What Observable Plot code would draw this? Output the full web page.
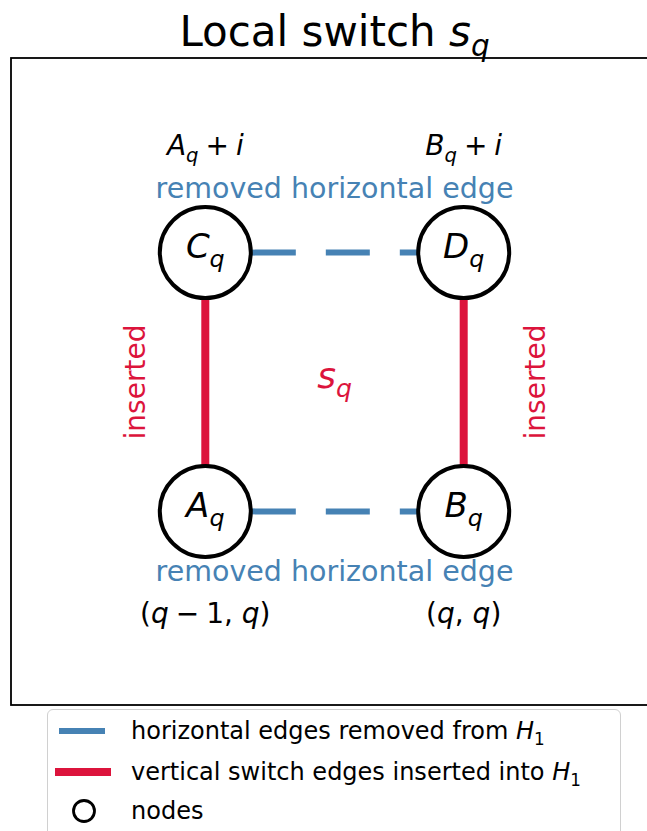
<!DOCTYPE html>
<html>
<head>
<meta charset="utf-8">
<script src="https://cdn.jsdelivr.net/npm/d3@7"></script>
<script src="https://cdn.jsdelivr.net/npm/@observablehq/plot@0.6"></script>
<style>
  html, body { margin: 0; padding: 0; background: white; overflow: hidden; }
  body { position: relative; width: 647px; height: 831px; font-family: "DejaVu Sans", sans-serif; }
  #legend { position: absolute; left: 47px; top: 709px; width: 572px; height: 150px;
            border: 1.6px solid #d0d0d0; border-radius: 6px; background: rgba(255,255,255,0.8); }
  .row { position: absolute; left: 0; height: 40px; line-height: 40px; font-size: 24px; color: black; white-space: nowrap; }
  .row svg { position: absolute; left: 0; top: 0; }
  .row span.lbl { position: absolute; left: 83px; top: 0; }
</style>
</head>
<body>
<div id="chart"></div>
<div id="legend"></div>
<script>
// ---------------- data ----------------
const titleText = "Local switch $s_q$";
const axisLimits = [-0.75, 1.75];

const nodeIds    = ["A", "B", "C", "D"];
const nodeLabels = ["$A_q$", "$B_q$", "$C_q$", "$D_q$"];
const nodeX      = [0, 1, 0, 1];
const nodeY      = [0, 0, 1, 1];

const removedEdges  = [["C", "D"], ["A", "B"]];   // dashed blue
const insertedEdges = [["C", "A"], ["D", "B"]];   // solid red

const cornerTexts = ["$A_q + i$", "$B_q + i$", "$(q-1, q)$", "$(q, q)$"];
const cornerX     = [0, 1, 0, 1];
const cornerY     = [1.41, 1.41, -0.395, -0.395];

const edgeTexts = ["removed horizontal edge", "removed horizontal edge"];
const edgeX     = [0.5, 0.5];
const edgeY     = [1.248, -0.232];

const sideTexts = ["inserted", "inserted"];
const sideX     = [-0.27, 1.28];
const sideY     = [0.5, 0.5];

const centerText = "$s_q$";
const centerX = 0.5, centerY = 0.523;
const titleX = 0.5, titleY = 1.852;

const legendLabels = ["horizontal edges removed from $H_1$",
                      "vertical switch edges inserted into $H_1$",
                      "nodes"];
const legendKinds  = ["removed", "inserted", "node"];

// ---------------- styles ----------------
const BLUE = "#4682b4", RED = "#dc143c";
const nodeR = 0.18;           // node radius in data units (for edge shortening)
const nodeRpx = 45.5;         // drawn radius in px

// ---------------- build tables ----------------
const nodes = nodeIds.map((id, i) => ({id, label: nodeLabels[i], x: nodeX[i], y: nodeY[i]}));
const byId = Object.fromEntries(nodes.map(n => [n.id, n]));
function edgeRows(pairs, shorten) {
  return pairs.map(([a, b]) => {
    const p = byId[a], q = byId[b];
    const dx = q.x - p.x, dy = q.y - p.y, L = Math.hypot(dx, dy);
    const s = shorten ? nodeR / L : 0;
    return {x1: p.x + dx * s, y1: p.y + dy * s, x2: q.x - dx * s, y2: q.y - dy * s};
  });
}
const removedRows = edgeRows(removedEdges, true);
const insertedRows = edgeRows(insertedEdges, false);
const corners = cornerTexts.map((t, i) => ({text: t, x: cornerX[i], y: cornerY[i]}));
const edgeLbls = edgeTexts.map((t, i) => ({text: t, x: edgeX[i], y: edgeY[i]}));
const sideLbls = sideTexts.map((t, i) => ({text: t, x: sideX[i], y: sideY[i]}));
const frameRow = [{x1: axisLimits[0], x2: axisLimits[1], y1: axisLimits[0], y2: axisLimits[1]}];

const chart = Plot.plot({
  width: 647, height: 708,
  marginLeft: 0, marginRight: 0, marginTop: 0, marginBottom: 0,
  x: {domain: axisLimits, range: [11, 657], axis: null},
  y: {domain: axisLimits, range: [705, 58], axis: null},
  style: {fontFamily: "DejaVu Sans", background: "white", overflow: "hidden"},
  marks: [
    Plot.rect(frameRow, {x1: "x1", x2: "x2", y1: "y1", y2: "y2", fill: "none", stroke: "black", strokeWidth: 1.8}),
    Plot.link(insertedRows, {x1: "x1", y1: "y1", x2: "x2", y2: "y2", stroke: RED, strokeWidth: 8}),
    Plot.link(removedRows, {x1: "x1", y1: "y1", x2: "x2", y2: "y2", stroke: BLUE, strokeWidth: 6,
                            strokeDasharray: "44,30", strokeLinecap: "butt"}),
    Plot.dot(nodes, {x: "x", y: "y", r: nodeRpx, fill: "white", stroke: "black", strokeWidth: 4}),
    Plot.text(nodes, {x: "x", y: "y", text: "label", fontSize: 34, fill: "black", dy: -5}),
    Plot.text(corners, {x: "x", y: "y", text: "text", fontSize: 28, fill: "black"}),
    Plot.text(edgeLbls, {x: "x", y: "y", text: "text", fontSize: 28.5, fill: BLUE}),
    Plot.text(sideLbls, {x: "x", y: "y", text: "text", fontSize: 28, fill: RED, rotate: -90}),
    Plot.text([{text: centerText, x: centerX, y: centerY}], {x: "x", y: "y", text: "text", fontSize: 36, fill: RED}),
    Plot.text([{text: titleText, x: titleX, y: titleY}], {x: "x", y: "y", text: "text", fontSize: 42, fill: "black"})
  ]
});
document.getElementById("chart").appendChild(chart);

// ---------------- mathtext-like rendering ----------------
function parseMath(s) {
  const runs = [];
  let math = false;
  const push = (t, italic, sub) => {
    const last = runs[runs.length - 1];
    if (last && last.italic === italic && last.sub === sub) last.t += t;
    else runs.push({t, italic, sub});
  };
  for (let i = 0; i < s.length; i++) {
    const c = s[i];
    if (c === "$") { math = !math; continue; }
    if (!math) { push(c, false, false); continue; }
    if (c === "_") { const n = s[++i]; push(n, /[A-Za-z]/.test(n), true); continue; }
    if (c === "-") { push("\u2005\u2212\u2005", false, false); continue; }
    if (c === ",") { push(", ", false, false); continue; }
    if (c === "+") { push("\u2005+\u2005", false, false); continue; }
    if (c === " ") continue;
    push(c, /[A-Za-z]/.test(c), false);
  }
  return runs;
}
const NS = "http://www.w3.org/2000/svg";
chart.querySelectorAll("text").forEach(t => {
  const s = t.textContent;
  if (!s.includes("$")) return;
  const fsEl = t.closest("[font-size]");
  const fs = fsEl ? parseFloat(fsEl.getAttribute("font-size")) : 16;
  const shift = 0.25 * fs;
  t.textContent = "";
  let inSub = false;
  for (const r of parseMath(s)) {
    const ts = document.createElementNS(NS, "tspan");
    ts.textContent = r.t;
    if (r.italic) ts.setAttribute("font-style", "italic");
    if (r.sub) ts.setAttribute("font-size", fs * 0.7);
    if (r.sub && !inSub) { ts.setAttribute("dy", shift); inSub = true; }
    else if (!r.sub && inSub) { ts.setAttribute("dy", -shift); inSub = false; }
    t.appendChild(ts);
  }
});

// ---------------- legend ----------------
function mathHTML(s) {
  return parseMath(s).map(r => {
    const txt = r.t.replace(/&/g, "&amp;").replace(/</g, "&lt;");
    let st = r.italic ? "font-style:italic;" : "";
    if (r.sub) st += "font-size:0.7em;position:relative;top:0.357em;";
    return st ? `<span style="${st}">${txt}</span>` : txt;
  }).join("");
}
const legend = document.getElementById("legend");
const rowTops = [1, 42, 81];
legendLabels.forEach((lab, i) => {
  const row = document.createElement("div");
  row.className = "row";
  row.style.top = rowTops[i] + "px";
  row.style.width = "570px";
  let sw = "";
  if (legendKinds[i] === "removed")
    sw = `<svg width="80" height="40"><line x1="11" x2="57" y1="20" y2="20" stroke="${BLUE}" stroke-width="6"/></svg>`;
  else if (legendKinds[i] === "inserted")
    sw = `<svg width="80" height="40"><line x1="11" x2="59" y1="20" y2="20" stroke="${RED}" stroke-width="8" stroke-linecap="square"/></svg>`;
  else
    sw = `<svg width="80" height="40"><circle cx="36" cy="20" r="10.5" fill="white" stroke="black" stroke-width="2.8"/></svg>`;
  row.innerHTML = sw + `<span class="lbl">${mathHTML(lab)}</span>`;
  legend.appendChild(row);
});
</script>
</body>
</html>
